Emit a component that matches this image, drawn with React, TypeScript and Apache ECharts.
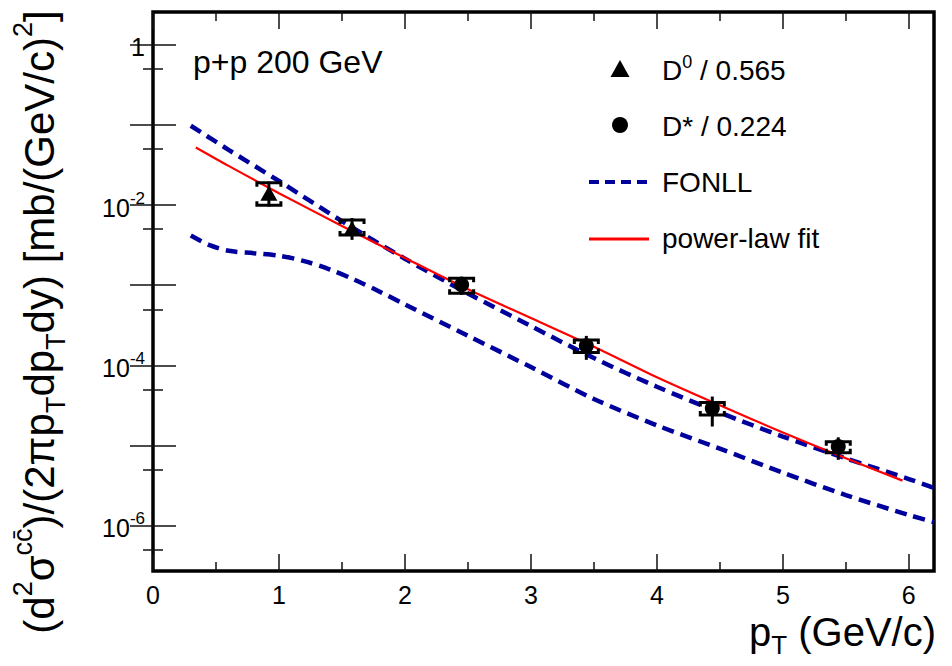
import React, { useEffect, useRef } from "react";
import * as echarts from "echarts";

// power-law fit curve
const fitPt = [0.34, 0.6, 1.0, 1.5, 2.0, 2.5, 3.0, 3.5, 4.0, 4.5, 5.0, 5.5, 5.95];
const fitVal = [5.25e-2, 3.09e-2, 1.41e-2, 5.5e-3, 2.19e-3, 8.9e-4, 3.89e-4, 1.7e-4, 7.08e-5, 3.16e-5, 1.45e-5, 6.9e-6, 3.63e-6];

// FONLL upper band edge
const fonllUpPt = [0.3, 0.6, 1.0, 1.5, 2.0, 2.5, 3.0, 3.5, 4.0, 4.5, 5.0, 5.5, 6.0, 6.2];
const fonllUpVal = [9.8e-2, 4.9e-2, 2.0e-2, 6.3e-3, 2.14e-3, 7.9e-4, 3.09e-4, 1.23e-4, 5.4e-5, 2.57e-5, 1.29e-5, 6.9e-6, 3.8e-6, 2.95e-6];

// FONLL lower band edge
const fonllLoPt = [0.3, 0.45, 0.6, 0.8, 1.0, 1.2, 1.4, 1.6, 1.8, 2.0, 2.5, 3.0, 3.5, 4.0, 4.5, 5.0, 5.5, 6.0, 6.2];
const fonllLoVal = [4.17e-3, 3.16e-3, 2.69e-3, 2.51e-3, 2.34e-3, 2.0e-3, 1.58e-3, 1.17e-3, 8.3e-4, 5.75e-4, 2.34e-4, 9.5e-5, 3.8e-5, 1.78e-5, 9.1e-6, 4.57e-6, 2.4e-6, 1.35e-6, 1.1e-6];

// D0 / 0.565
const d0Pt = [0.92, 1.58];
const d0Val = [1.41e-2, 5.15e-3];
const d0StatLo = [9.6e-3, 3.68e-3];
const d0StatHi = [1.96e-2, 6.9e-3];
const d0SysLo = [1.0e-2, 4.25e-3];
const d0SysHi = [1.9e-2, 6.5e-3];

// D* / 0.224
const dsPt = [2.45, 3.44, 4.44, 5.44];
const dsVal = [1.01e-3, 1.75e-4, 2.91e-5, 9.66e-6];
const dsStatLo = [7.57e-4, 1.17e-4, 1.72e-5, 6.6e-6];
const dsStatHi = [1.28e-3, 2.33e-4, 4.07e-5, 1.26e-5];
const dsSysLo = [7.94e-4, 1.44e-4, 2.4e-5, 8.1e-6];
const dsSysHi = [1.22e-3, 2.07e-4, 3.42e-5, 1.11e-5];

// axis ticks
const xMajorTicks = [0, 1, 2, 3, 4, 5, 6];
const xMinorTicks = [0.5, 1.5, 2.5, 3.5, 4.5, 5.5];
const yMajorTicks = [1e-6, 1e-5, 1e-4, 1e-3, 1e-2, 1e-1, 1];
const yMinorTicks = [5e-7, 5e-6, 5e-5, 5e-4, 5e-3, 5e-2, 5e-1];
const yLabelTicks = [1e-6, 1e-4, 1e-2, 1];

const FONT = "Liberation Sans, Arial, Helvetica, sans-serif";
const BLUE = "#00009c";

export default function App() {
  const ref = useRef<HTMLDivElement>(null);
  useEffect(() => {
    if (!ref.current) return;
    const chart = echarts.init(ref.current, null, { renderer: "svg" });
    const yMin = 2.7e-7;
    const yMax = 2.58;

    const tickStyle = { color: "#111", width: 1.5 };
    const mkX = (pos: string, ticks: number[], len: number, labels: boolean) => ({
      type: "value",
      min: 0,
      max: 6.2,
      position: pos,
      axisLine: { show: false },
      splitLine: { show: false },
      axisTick: { show: true, inside: true, length: len, customValues: ticks, lineStyle: tickStyle },
      axisLabel: labels
        ? { show: true, customValues: xMajorTicks, fontSize: 25, fontFamily: FONT, color: "#000", margin: 11 }
        : { show: false },
    });
    const mkY = (pos: string, ticks: number[], len: number, labels: boolean) => ({
      type: "log",
      logBase: 10,
      min: yMin,
      max: yMax,
      position: pos,
      axisLine: { show: false },
      splitLine: { show: false },
      minorTick: { show: false },
      axisTick: { show: true, inside: true, length: len, customValues: ticks, lineStyle: tickStyle },
      axisLabel: labels
        ? {
            show: true,
            customValues: yLabelTicks,
            margin: 8,
            fontFamily: FONT,
            color: "#000",
            formatter: (v: number) => {
              const e = Math.round(Math.log10(v));
              if (e === 0) return "{b|1}";
              return "{b|10}{s|" + e + "}";
            },
            rich: {
              b: { fontSize: 25, fontFamily: FONT, color: "#000", lineHeight: 30, verticalAlign: "bottom" },
              s: { fontSize: 17, fontFamily: FONT, color: "#000", lineHeight: 30, verticalAlign: "top" },
            },
          }
        : { show: false },
    });

    const errData = (pt: number[], v: number[], sl: number[], sh: number[], yl: number[], yh: number[]) =>
      pt.map((x, i) => [x, v[i], sl[i], sh[i], yl[i], yh[i]]);

    const renderErr = (params: any, api: any) => {
      const x = api.value(0);
      const a = api.coord([x, api.value(2)]);
      const b = api.coord([x, api.value(3)]);
      const lo = api.coord([x, api.value(4)]);
      const hi = api.coord([x, api.value(5)]);
      const w = 12;
      const s = 4;
      const st = { stroke: "#000", lineWidth: 3, fill: "none" };
      return {
        type: "group",
        children: [
          { type: "line", shape: { x1: a[0], y1: a[1], x2: b[0], y2: b[1] }, style: { stroke: "#000", lineWidth: 3 } },
          {
            type: "polyline",
            shape: { points: [[hi[0] - w, hi[1] + s], [hi[0] - w, hi[1]], [hi[0] + w, hi[1]], [hi[0] + w, hi[1] + s]] },
            style: st,
          },
          {
            type: "polyline",
            shape: { points: [[lo[0] - w, lo[1] - s], [lo[0] - w, lo[1]], [lo[0] + w, lo[1]], [lo[0] + w, lo[1] - s]] },
            style: st,
          },
        ],
      };
    };

    const legendX = 662;
    const txt = (x: number, y: number, text: string, size: number, extra: any = {}) => ({
      type: "text",
      x,
      y,
      style: {
        text,
        fontSize: size,
        fontFamily: FONT,
        fill: "#000",
        verticalAlign: "middle",
        ...extra,
      },
    });

    const option: any = {
      animation: false,
      backgroundColor: "#fff",
      grid: {
        left: 153,
        right: 18,
        top: 12,
        bottom: 95,
        show: true,
        borderColor: "#000",
        borderWidth: 3.5,
        backgroundColor: "transparent",
      },
      xAxis: [
        mkX("bottom", xMajorTicks, 17, true),
        mkX("bottom", xMinorTicks, 9, false),
        mkX("top", xMajorTicks, 17, false),
        mkX("top", xMinorTicks, 9, false),
      ],
      yAxis: [
        mkY("left", yMajorTicks, 23, true),
        mkY("left", yMinorTicks, 10, false),
        mkY("right", yMajorTicks, 23, false),
        mkY("right", yMinorTicks, 10, false),
      ],
      series: [
        {
          name: "FONLL upper",
          type: "line",
          data: fonllUpPt.map((x, i) => [x, fonllUpVal[i]]),
          showSymbol: false,
          smooth: 0.3,
          lineStyle: { color: BLUE, width: 4.5, type: [12, 7] },
          z: 2,
        },
        {
          name: "FONLL lower",
          type: "line",
          data: fonllLoPt.map((x, i) => [x, fonllLoVal[i]]),
          showSymbol: false,
          smooth: 0.3,
          lineStyle: { color: BLUE, width: 4.5, type: [12, 7] },
          z: 2,
        },
        {
          name: "power-law fit",
          type: "line",
          data: fitPt.map((x, i) => [x, fitVal[i]]),
          showSymbol: false,
          smooth: 0.3,
          lineStyle: { color: "#ff0000", width: 2.2 },
          z: 3,
        },
        {
          name: "D0 err",
          type: "custom",
          data: errData(d0Pt, d0Val, d0StatLo, d0StatHi, d0SysLo, d0SysHi),
          encode: { x: 0, y: 1 },
          renderItem: renderErr,
          z: 4,
        },
        {
          name: "Dstar err",
          type: "custom",
          data: errData(dsPt, dsVal, dsStatLo, dsStatHi, dsSysLo, dsSysHi),
          encode: { x: 0, y: 1 },
          renderItem: renderErr,
          z: 4,
        },
        {
          name: "D0",
          type: "scatter",
          data: d0Pt.map((x, i) => [x, d0Val[i]]),
          symbol: "triangle",
          symbolSize: [17, 15],
          itemStyle: { color: "#000", opacity: 1 },
          z: 5,
        },
        {
          name: "D*",
          type: "scatter",
          data: dsPt.map((x, i) => [x, dsVal[i]]),
          symbol: "circle",
          symbolSize: 15,
          itemStyle: { color: "#000", opacity: 1 },
          z: 5,
        },
      ],
      graphic: [
        txt(193, 62, "p+p 200 GeV", 32),
        { type: "polygon", shape: { points: [[620, 60], [610.5, 77], [629.5, 77]] }, style: { fill: "#000" } },
        { type: "circle", shape: { cx: 620, cy: 125, r: 8 }, style: { fill: "#000" } },
        { type: "line", shape: { x1: 589, y1: 182, x2: 649, y2: 182 }, style: { stroke: BLUE, lineWidth: 4, lineDash: [10, 6] } },
        { type: "line", shape: { x1: 589, y1: 239, x2: 649, y2: 239 }, style: { stroke: "#ff0000", lineWidth: 3 } },
        txt(legendX, 70, "D{sup|0} / 0.565", 28, {
          rich: { sup: { fontSize: 18, fontFamily: FONT, fill: "#000", verticalAlign: "top", lineHeight: 34 } },
        }),
        txt(legendX, 126, "D* / 0.224", 28),
        txt(legendX, 182, "FONLL", 28),
        txt(legendX, 238, "power-law fit", 28),
        txt(936, 632, "p{sub|T} (GeV/c)", 40, {
          align: "right",
          rich: { sub: { fontSize: 26, fontFamily: FONT, fill: "#000", verticalAlign: "bottom", lineHeight: 52 } },
        }),
        {
          type: "text",
          x: 39,
          y: 322,
          rotation: Math.PI / 2,
          style: {
            text: "(d{sup|2}σ{sup|cc\u0304})/(2πp{sub|T}dp{sub|T}dy) [mb/(GeV/c){sup|2}]",
            fontSize: 42,
            fontFamily: FONT,
            fill: "#000",
            align: "center",
            verticalAlign: "middle",
            rich: {
              sup: { fontSize: 27, fontFamily: FONT, fill: "#000", verticalAlign: "top", lineHeight: 60 },
              sub: { fontSize: 27, fontFamily: FONT, fill: "#000", verticalAlign: "bottom", lineHeight: 60 },
            },
          },
        },
      ],
    };
    chart.setOption(option);
    return () => chart.dispose();
  }, []);
  return (
    <div
      ref={ref}
      style={{ position: "fixed", left: 0, top: 0, width: 952, height: 666, background: "#fff" }}
    />
  );
}
